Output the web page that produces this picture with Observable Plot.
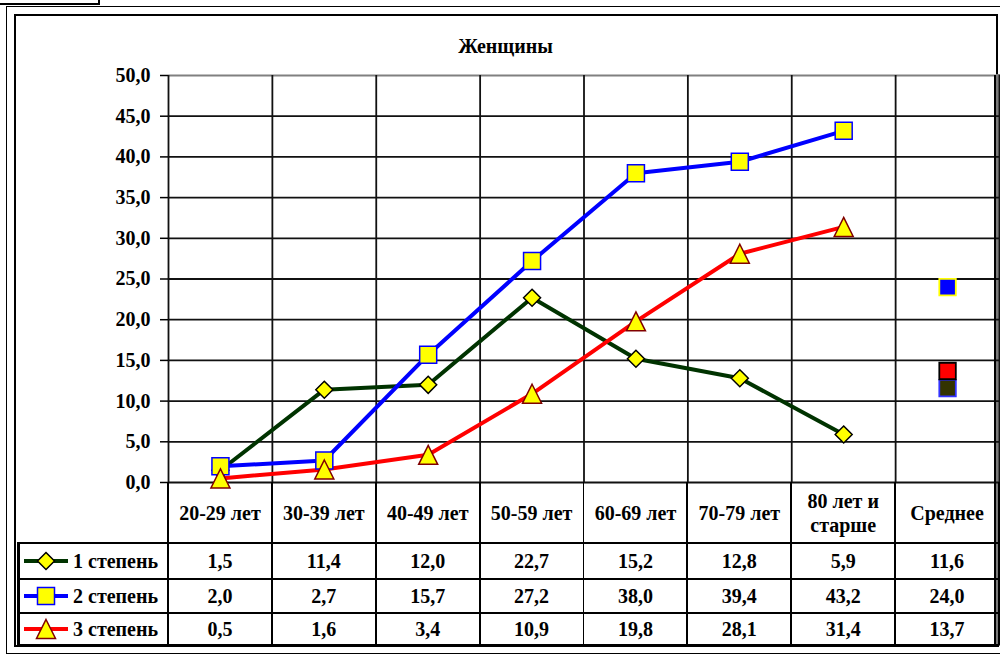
<!DOCTYPE html>
<html>
<head>
<meta charset="utf-8">
<script src="https://cdn.jsdelivr.net/npm/d3@7"></script>
<script src="https://cdn.jsdelivr.net/npm/@observablehq/plot@0.6"></script>
<style>
  html, body { margin: 0; padding: 0; background: #fff; }
  #root { position: relative; width: 1000px; height: 656px; overflow: hidden;
          font-family: "Liberation Serif", "Times New Roman", serif; font-weight: bold; font-size: 20px; color: #000; }
  .abs { position: absolute; box-sizing: border-box; }
  .cell { position: absolute; display: flex; flex-direction: column; align-items: center; justify-content: center; text-align: center; line-height: 24px; }
  .cell span { display: block; }
  .hl { position: absolute; background: #000; }
</style>
</head>
<body>
<div id="root"></div>
<script>
// ---------- data ----------
const title = "Женщины";
const categories = ["20-29 лет", "30-39 лет", "40-49 лет", "50-59 лет", "60-69 лет", "70-79 лет", "80 лет и\nстарше", "Среднее"];
const seriesNames = ["1 степень", "2 степень", "3 степень"];
const values1 = [1.5, 11.4, 12.0, 22.7, 15.2, 12.8, 5.9, 11.6];
const values2 = [2.0, 2.7, 15.7, 27.2, 38.0, 39.4, 43.2, 24.0];
const values3 = [0.5, 1.6, 3.4, 10.9, 19.8, 28.1, 31.4, 13.7];
const yTicks = [0, 5, 10, 15, 20, 25, 30, 35, 40, 45, 50];

// ---------- styles ----------
const sq = {draw(ctx, size) { const h = Math.sqrt(size) / 2; ctx.moveTo(-h, -h); ctx.lineTo(h, -h); ctx.lineTo(h, h); ctx.lineTo(-h, h); ctx.closePath(); }};
const dia = {draw(ctx, size) { const h = Math.sqrt(size) / 2; ctx.moveTo(0, -h); ctx.lineTo(h, 0); ctx.lineTo(0, h); ctx.lineTo(-h, 0); ctx.closePath(); }};
const tri = {draw(ctx, size) { const h = Math.sqrt(size) / 2; ctx.moveTo(0, -h); ctx.lineTo(h, h); ctx.lineTo(-h, h); ctx.closePath(); }};
const rFor = s => s / Math.sqrt(Math.PI);

const styles = [
  {line: "#003300", symbol: dia, side: 17, fill: "#ffff00", stroke: "#000000", avgFill: "#333300", avgStroke: "#3333ff"},
  {line: "#0000ff", symbol: sq, side: 17, fill: "#ffff00", stroke: "#0000ff", avgFill: "#0000ff", avgStroke: "#ffff00"},
  {line: "#ff0000", symbol: tri, side: 19, fill: "#ffff00", stroke: "#800000", avgFill: "#ff0000", avgStroke: "#000000"}
];
const allValues = [values1, values2, values3];
const nAges = categories.length - 1; // last category is the average

const seriesData = allValues.map((vals, s) => vals.map((v, i) => ({series: seriesNames[s], i, cat: categories[i], value: v})));
const lineData = seriesData.map(d => d.slice(0, nAges));
const avgData = seriesData.map(d => d.slice(nAges));

const fmt = v => v.toFixed(1).replace(".", ",");

// ---------- chart ----------
const marks = [
  Plot.ruleY(yTicks.filter(t => t !== d3.max(yTicks)), {y: d => d, x1: 0, x2: categories.length, stroke: "#111", strokeWidth: 1.8}),
  Plot.ruleY([d3.max(yTicks)], {y: d => d, x1: 0, x2: categories.length, stroke: "#808080", strokeWidth: 2.2}),
  Plot.ruleX(d3.range(categories.length + 1), {x: d => d, y1: 0, y2: d3.max(yTicks), stroke: "#111", strokeWidth: 1.8}),
  Plot.axisY(yTicks, {tickSize: 8, tickPadding: 10, tickFormat: fmt, stroke: "#000", strokeWidth: 1.5, fontSize: 20, fontWeight: "bold", label: null})
];
lineData.forEach((d, s) => {
  marks.push(Plot.line(d, {x: r => r.i + 0.5, y: "value", stroke: styles[s].line, strokeWidth: 4, strokeLinejoin: "round"}));
});
lineData.forEach((d, s) => {
  const st = styles[s];
  marks.push(Plot.dot(d, {x: r => r.i + 0.5, y: "value", symbol: st.symbol, r: rFor(st.side), fill: st.fill, stroke: st.stroke, strokeWidth: 1.5}));
});
avgData.forEach((d, s) => {
  const st = styles[s];
  marks.push(Plot.dot(d, {x: r => r.i + 0.5, y: "value", symbol: sq, r: rFor(16.5), fill: st.avgFill, stroke: st.avgStroke, strokeWidth: 1.8}));
});

const chart = Plot.plot({
  width: 1000,
  height: 484,
  marginTop: 75,
  marginBottom: 2,
  marginLeft: 168,
  marginRight: 1,
  x: {type: "linear", domain: [0, categories.length], axis: null},
  y: {domain: [0, d3.max(yTicks)], axis: null},
  style: {fontFamily: "Liberation Serif, Times New Roman, serif", fontWeight: "bold", fontSize: "20px", overflow: "visible", background: "transparent"},
  marks
});

// ---------- page ----------
const root = d3.select("#root");
const xs = chart.scale("x");
const X = i => xs.apply(i);

// little box at top-left
root.append("div").attr("class", "abs").style("left", "-2px").style("top", "-2px").style("width", "102px").style("height", "7px")
  .style("border", "2px solid #000");
// outer frame (thin) and inner frame (thick)
root.append("div").attr("class", "abs").style("left", "6px").style("top", "6px").style("width", "1000px").style("height", "648px")
  .style("border", "1.5px solid #000");
root.append("div").attr("class", "abs").style("left", "14px").style("top", "14px").style("width", "984px").style("height", "633px")
  .style("border", "2px solid #000");
// gray right edge of plot area
root.append("div").attr("class", "abs").style("left", "996px").style("top", "74px").style("width", "4px").style("height", "572px")
  .style("background", "#7a7a7a");

// title
root.append("div").attr("class", "abs").style("left", "15px").style("width", "981px").style("top", "35px")
  .style("text-align", "center").style("line-height", "22px").text(title);

// chart svg
const holder = root.append("div").attr("class", "abs").style("left", "0px").style("top", "0px");
holder.node().appendChild(chart);

// data table
const rowsY = [482, 543, 579, 613, 645];
const tableLeft = 17;
const tableRight = X(categories.length);
// header row
categories.forEach((c, i) => {
  const cell = root.append("div").attr("class", "cell")
    .style("left", X(i) + "px").style("width", (X(i + 1) - X(i)) + "px")
    .style("top", rowsY[0] + "px").style("height", (rowsY[1] - rowsY[0]) + "px");
  c.split("\n").forEach(t => cell.append("span").text(t));
});
// series rows
allValues.forEach((vals, s) => {
  const top = rowsY[s + 1], h = rowsY[s + 2] - rowsY[s + 1];
  vals.forEach((v, i) => {
    root.append("div").attr("class", "cell")
      .style("left", X(i) + "px").style("width", (X(i + 1) - X(i)) + "px")
      .style("top", top + "px").style("height", h + "px").text(fmt(v));
  });
  // legend cell
  const st = styles[s];
  const cy = top + h / 2;
  const svg = root.append("svg").attr("class", "abs").style("left", "0px").style("top", "0px")
    .attr("width", 170).attr("height", 656).style("overflow", "visible");
  svg.append("line").attr("x1", 24).attr("x2", 68).attr("y1", cy).attr("y2", cy).attr("stroke", st.line).attr("stroke-width", 4);
  svg.append("path").attr("transform", `translate(46,${cy})`).attr("d", d3.symbol(st.symbol, st.side * st.side)())
    .attr("fill", st.fill).attr("stroke", st.stroke).attr("stroke-width", 1.5);
  root.append("div").attr("class", "abs").style("left", "73px").style("top", (cy - 12) + "px")
    .style("line-height", "24px").style("white-space", "nowrap").text(seriesNames[s]);
});
// table lines
const hline = (y, x1, x2, w) => root.append("div").attr("class", "hl").style("left", x1 + "px").style("top", (y - w / 2) + "px").style("width", (x2 - x1) + "px").style("height", w + "px");
const vline = (x, y1, y2, w) => root.append("div").attr("class", "hl").style("left", (x - w / 2) + "px").style("top", y1 + "px").style("width", w + "px").style("height", (y2 - y1) + "px");
for (let i = 0; i <= categories.length; i++) vline(X(i), rowsY[0], rowsY[4], 1.8);
hline(rowsY[1], tableLeft, tableRight, 1.8);
hline(rowsY[2], tableLeft, tableRight, 1.8);
hline(rowsY[3], tableLeft, tableRight, 1.8);
hline(rowsY[4], tableLeft, tableRight, 3);
vline(tableLeft + 1, rowsY[1], rowsY[4] + 1.5, 3);
vline(995, 75, rowsY[4] + 1.5, 2);
</script>
</body>
</html>
